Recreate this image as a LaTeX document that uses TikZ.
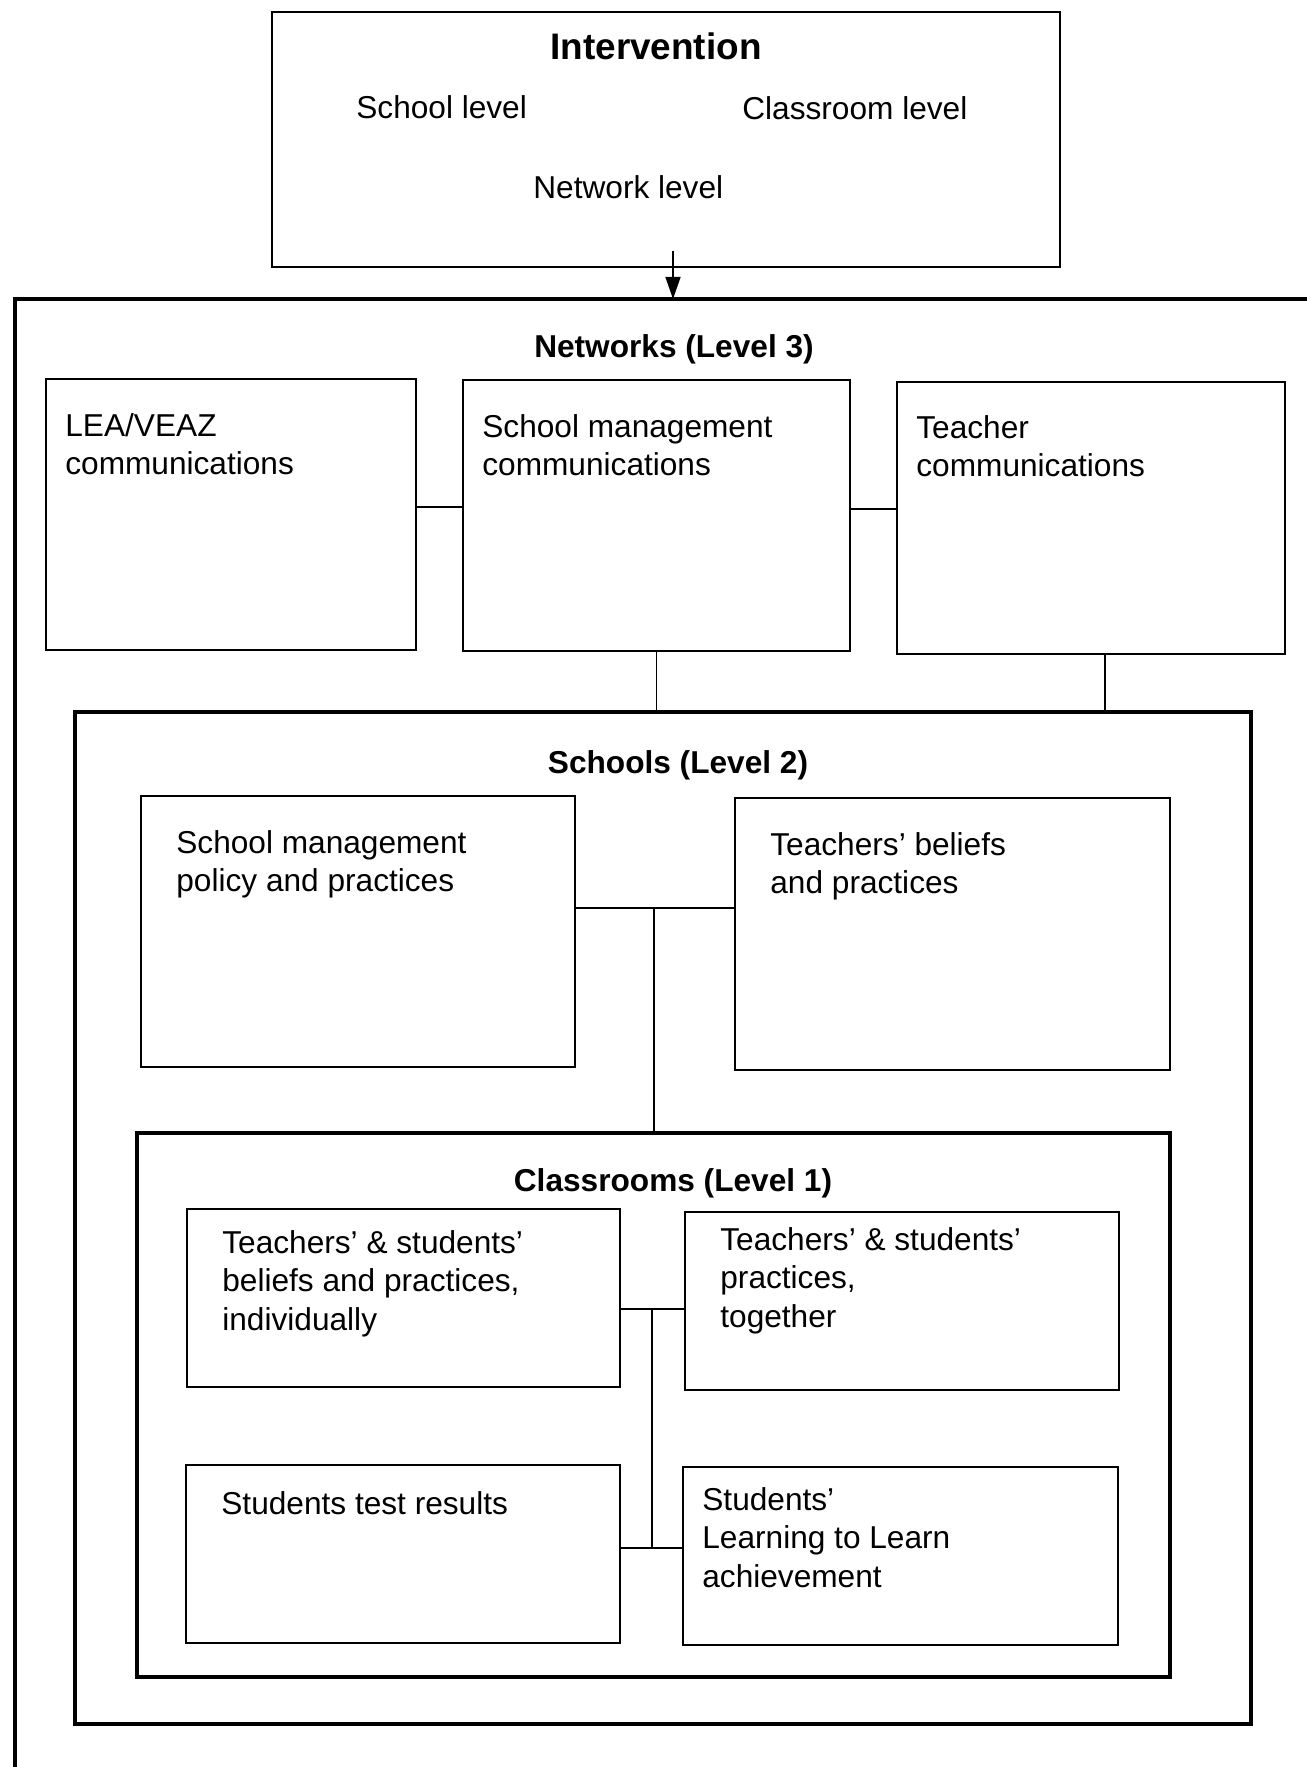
\documentclass[tikz,border=0pt]{standalone}
\usepackage{fontspec}
\setmainfont{Liberation Sans}
\usetikzlibrary{arrows.meta}

\begin{document}
\begin{tikzpicture}[
  box/.style={draw, line width=1.1pt, inner sep=0pt},
  frame/.style={draw, line width=2.3pt, inner sep=0pt},
  link/.style={line width=0.8pt},
  txt/.style={anchor=north west, inner sep=0pt, align=left, font=\fontsize{18}{22}\selectfont},
  head/.style={inner sep=0pt, font=\fontsize{18}{22}\selectfont\bfseries}
]
\useasboundingbox (0,0) rectangle (26.12,-35.34);

% intervention
\node[box, minimum width=15.76cm, minimum height=5.10cm] (int) at (13.32,-2.79) {};
\node[head, font=\fontsize{21}{25}\selectfont\bfseries] (intt) at (13.12,-0.92) {Intervention};
\node[txt, anchor=west] (sl) at (7.12,-2.14) {School level};
\node[txt, anchor=west] (cl) at (14.84,-2.16) {Classroom level};
\node[txt, anchor=west] (nl) at (10.66,-3.74) {Network level};

% networks (level 3), open to the right and bottom
\coordinate (ftop) at (0.30,-5.98);
\coordinate (a1) at (13.46,-5.98);
\path[draw, line width=2.3pt] (26.4,-5.98) -- (ftop) -- (0.30,-35.6);
\coordinate (a0) at ([yshift=0.34cm]int.south);
\path[draw, link, -{Triangle[length=0.44cm, width=0.3cm]}] (a0 -| a1) -- (a1);
\node[head] (nett) at (13.48,-6.99) {Networks (Level 3)};

\node[box, minimum width=7.40cm, minimum height=5.42cm] (lea) at (4.62,-10.29) {};
\node[box, minimum width=7.74cm, minimum height=5.42cm] (smc) at (13.13,-10.31) {};
\node[box, minimum width=7.76cm, minimum height=5.44cm] (tc) at (21.82,-10.36) {};
\node[txt] (leat) at ([shift={(0.4,-0.7)}]lea.north west) {LEA/VEAZ\\communications};
\node[txt] (smct) at ([shift={(0.4,-0.7)}]smc.north west) {School management\\communications};
\node[txt] (tct) at ([shift={(0.4,-0.68)}]tc.north west) {Teacher\\communications};
\coordinate (n1) at (8.8,-10.14);
\coordinate (n2) at (17.5,-10.18);
\path[draw, link] (lea.east |- n1) -- (smc.west |- n1);
\path[draw, link] (smc.east |- n2) -- (tc.west |- n2);

% schools (level 2)
\node[frame, minimum width=23.52cm, minimum height=20.24cm] (sch) at (13.26,-24.36) {};
\coordinate (t1) at ([xshift=0.28cm]tc.south);
\path[draw, link] (smc.south) -- (smc.south |- sch.north);
\path[draw, link] (t1) -- (t1 |- sch.north);
\node[head] (scht) at (13.56,-15.31) {Schools (Level 2)};

\node[box, minimum width=8.68cm, minimum height=5.42cm] (smp) at (7.16,-18.63) {};
\node[box, minimum width=8.70cm, minimum height=5.44cm] (tbp) at (19.05,-18.68) {};
\node[txt] (smpt) at ([shift={(0.72,-0.7)}]smp.north west) {School management\\policy and practices};
\node[txt] (tbpt) at ([shift={(0.72,-0.7)}]tbp.north west) {Teachers’ beliefs\\and practices};

% classrooms (level 1)
\node[frame, minimum width=20.66cm, minimum height=10.88cm] (cls) at (13.07,-28.10) {};
\coordinate (j2) at (13.08,-18.16);
\path[draw, link] (smp.east |- j2) -- (tbp.west |- j2);
\path[draw, link] (j2) -- (j2 |- cls.north);
\node[head] (clst) at (13.46,-23.67) {Classrooms (Level 1)};

\node[box, minimum width=8.66cm, minimum height=3.56cm] (tl) at (8.07,-25.96) {};
\node[box, minimum width=8.68cm, minimum height=3.56cm] (tr) at (18.04,-26.02) {};
\node[box, minimum width=8.68cm, minimum height=3.56cm] (bl) at (8.06,-31.08) {};
\node[box, minimum width=8.70cm, minimum height=3.56cm] (br) at (18.01,-31.12) {};
\node[txt] (tlt) at ([shift={(0.72,-0.44)}]tl.north west) {Teachers’ \& students’\\beliefs and practices,\\individually};
\node[txt] (trt) at ([shift={(0.72,-0.32)}]tr.north west) {Teachers’ \& students’\\practices,\\together};
\node[txt] (blt) at ([shift={(0.72,-0.54)}]bl.north west) {Students test results};
\node[txt] (brt) at ([shift={(0.40,-0.42)}]br.north west) {Students’\\Learning to Learn\\achievement};

\coordinate (c1) at (13.04,-26.18);
\coordinate (c2) at (13.04,-30.96);
\path[draw, link] (tl.east |- c1) -- (tr.west |- c1);
\path[draw, link] (c1) -- (c2);
\path[draw, link] (bl.east |- c2) -- (br.west |- c2);
\end{tikzpicture}
\end{document}
